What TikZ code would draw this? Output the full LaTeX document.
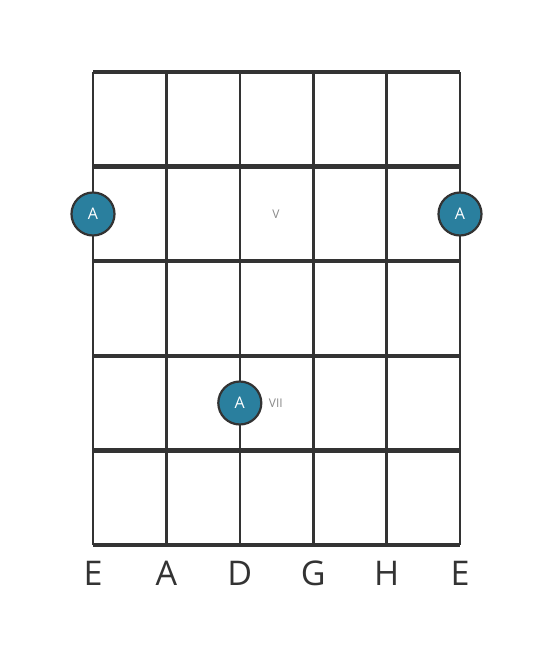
\documentclass[tikz,border=0pt]{standalone}
\usepackage{fontspec}
\setmainfont{Open Sans}
\usetikzlibrary{positioning}
\definecolor{gridgray}{HTML}{333333}
\definecolor{dotblue}{HTML}{2A7F9E}
\definecolor{fretgray}{HTML}{8A8A8A}

\begin{document}
\begin{tikzpicture}[x=1pt, y=-1pt,
	fretline/.style={line width=4.5pt, gridgray},
	stringline/.style={line width=2.6pt, gridgray},
	notedot/.style={circle, draw=gridgray, line width=2.2pt, fill=dotblue, minimum size=43pt, inner sep=0pt, text=white, font=\fontsize{16}{16}\selectfont},
	fretlabel/.style={text=fretgray, font=\fontsize{12}{12}\selectfont},
	stringlabel/.style={text=gridgray, font=\fontsize{34}{34}\selectfont}]
			\useasboundingbox (0,0) rectangle (553,656);
			
			\foreach \x [count=\i] in {93,166.4,239.8,313.2,386.6,460}
				\coordinate (s\i) at (\x,72);
			\foreach \y [count=\j] in {72,166.6,261.2,355.8,450.4,545}
				\coordinate (f\j) at (93,\y);
			
			\foreach \i in {1,...,6}
				\draw[stringline] (s\i) -- (s\i |- f6);
			\foreach \j in {1,...,6}
				\draw[fretline] (f\j) -- (s6 |- f\j);
			
			\node[notedot] (dotlow) at (s1 |- 0,214) {A};
			\node[notedot] (dothigh) at (s6 |- 0,214) {A};
			\node[notedot] (dotmid) at (s3 |- 0,403) {A};
			
			\node[fretlabel] (fretv) at (276,214) {V};
			\node[fretlabel, right=3pt of dotmid] (fretvii) {VII};
			
			\foreach \n [count=\i] in {E,A,D,G,H,E}
				\node[stringlabel] (lab\i) at (s\i |- 0,573) {\n};
\end{tikzpicture}
\end{document}
